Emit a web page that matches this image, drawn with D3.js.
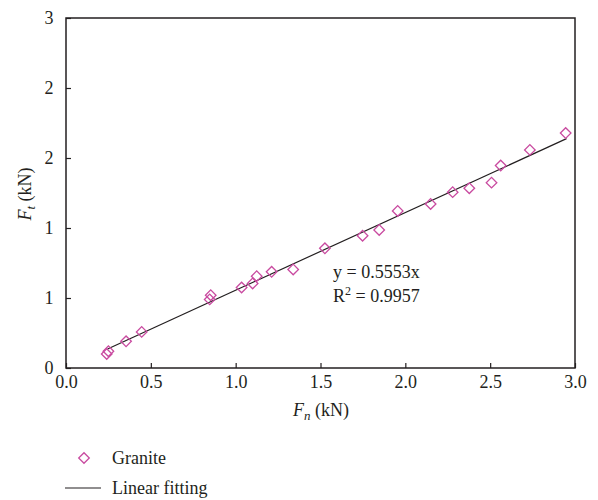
<!DOCTYPE html>
<html>
<head>
<meta charset="utf-8">
<script src="https://cdn.jsdelivr.net/npm/d3@7"></script>
<style>
  body { margin: 0; background: #fff; }
  text { font-family: 'Liberation Serif', 'Times New Roman', serif; fill: #231f20; }
</style>
</head>
<body>
<svg id="chart" width="598" height="500"></svg>
<script>
const fn = [0.24, 0.25, 0.354, 0.446, 0.847, 0.853, 1.035, 1.10, 1.124, 1.212, 1.339, 1.526, 1.748, 1.846, 1.955, 2.149, 2.279, 2.377, 2.508, 2.562, 2.734, 2.945]
const ft = [0.10, 0.12, 0.191, 0.258, 0.49, 0.52, 0.575, 0.604, 0.656, 0.687, 0.704, 0.855, 0.945, 0.986, 1.122, 1.172, 1.256, 1.284, 1.324, 1.446, 1.558, 1.678]
const slope = 0.5553
const fitRange = [0.245, 2.95]
const xTicks = [0, 0.5, 1.0, 1.5, 2.0, 2.5, 3.0]
const yTicks = [0, 0.5, 1.0, 1.5, 2.0, 2.5]
const yTickLabels = ['0', '1', '1', '2', '2', '3']

const svg = d3.select('#chart')
const m = { left: 66, right: 575, top: 18, bottom: 368 }
const x = d3.scaleLinear().domain([0, 3]).range([m.left, m.right])
const y = d3.scaleLinear().domain([0, 2.5]).range([m.bottom, m.top])
const pink = '#c94ba0'
const fs = '18px'

// frame
svg.append('rect')
  .attr('x', m.left).attr('y', m.top)
  .attr('width', m.right - m.left).attr('height', m.bottom - m.top)
  .style('fill', 'none').style('stroke', '#231f20').style('stroke-width', 1.5)

const gx = svg.append('g').attr('transform', `translate(0,${m.bottom})`)
  .call(d3.axisTop(x).tickValues(xTicks).tickFormat(d3.format('.1f')).tickSize(5).tickPadding(-25))
gx.select('.domain').remove()
gx.selectAll('line').style('stroke', '#231f20').style('stroke-width', 1.2)
gx.selectAll('text').style('font-size', fs).attr('dy', '0')

const gy = svg.append('g').attr('transform', `translate(${m.left},0)`)
  .call(d3.axisRight(y).tickValues(yTicks).tickFormat((d, i) => yTickLabels[i]).tickSize(5).tickPadding(-22))
gy.select('.domain').remove()
gy.selectAll('line').style('stroke', '#231f20').style('stroke-width', 1.2)
gy.selectAll('text').style('font-size', fs).attr('text-anchor', 'middle').attr('dy', '0.3em')

// axis titles
svg.append('text').attr('x', 321).attr('y', 416).attr('text-anchor', 'middle')
  .style('font-size', fs)
  .html('<tspan font-style="italic">F</tspan><tspan font-style="italic" font-size="13px" dy="4">n</tspan><tspan dy="-4"> (kN)</tspan>')

svg.append('text').attr('transform', 'translate(31,194) rotate(-90)').attr('text-anchor', 'middle')
  .style('font-size', fs)
  .html('<tspan font-style="italic">F</tspan><tspan font-style="italic" font-size="13px" dy="4">t</tspan><tspan dy="-4"> (kN)</tspan>')

// fit line
svg.append('line')
  .attr('x1', x(fitRange[0])).attr('y1', y(slope * fitRange[0]))
  .attr('x2', x(fitRange[1])).attr('y2', y(slope * fitRange[1]))
  .style('stroke', '#231f20').style('stroke-width', 1.2)

const diamond = d3.symbol().type(d3.symbolSquare).size(56)
svg.append('g').selectAll('path').data(fn).enter().append('path')
  .attr('d', diamond)
  .attr('transform', (d, i) => `translate(${x(d)},${y(ft[i])}) rotate(45)`)
  .style('fill', 'none').style('stroke', pink).style('stroke-width', 1.3)

// equation
svg.append('text').attr('x', 333).attr('y', 278).style('font-size', fs).text('y = 0.5553x')
svg.append('text').attr('x', 333).attr('y', 302).style('font-size', fs)
  .html('R<tspan font-size="12px" dy="-7">2</tspan><tspan dy="7"> = 0.9957</tspan>')

// legend
svg.append('path').attr('d', diamond).attr('transform', 'translate(84,458) rotate(45)')
  .style('fill', 'none').style('stroke', pink).style('stroke-width', 1.3)
svg.append('text').attr('x', 112).attr('y', 464).style('font-size', fs).text('Granite')
svg.append('line').attr('x1', 65).attr('x2', 101).attr('y1', 488).attr('y2', 488)
  .style('stroke', '#231f20').style('stroke-width', 1.2)
svg.append('text').attr('x', 112).attr('y', 494).style('font-size', fs).text('Linear fitting')
</script>
</body>
</html>
